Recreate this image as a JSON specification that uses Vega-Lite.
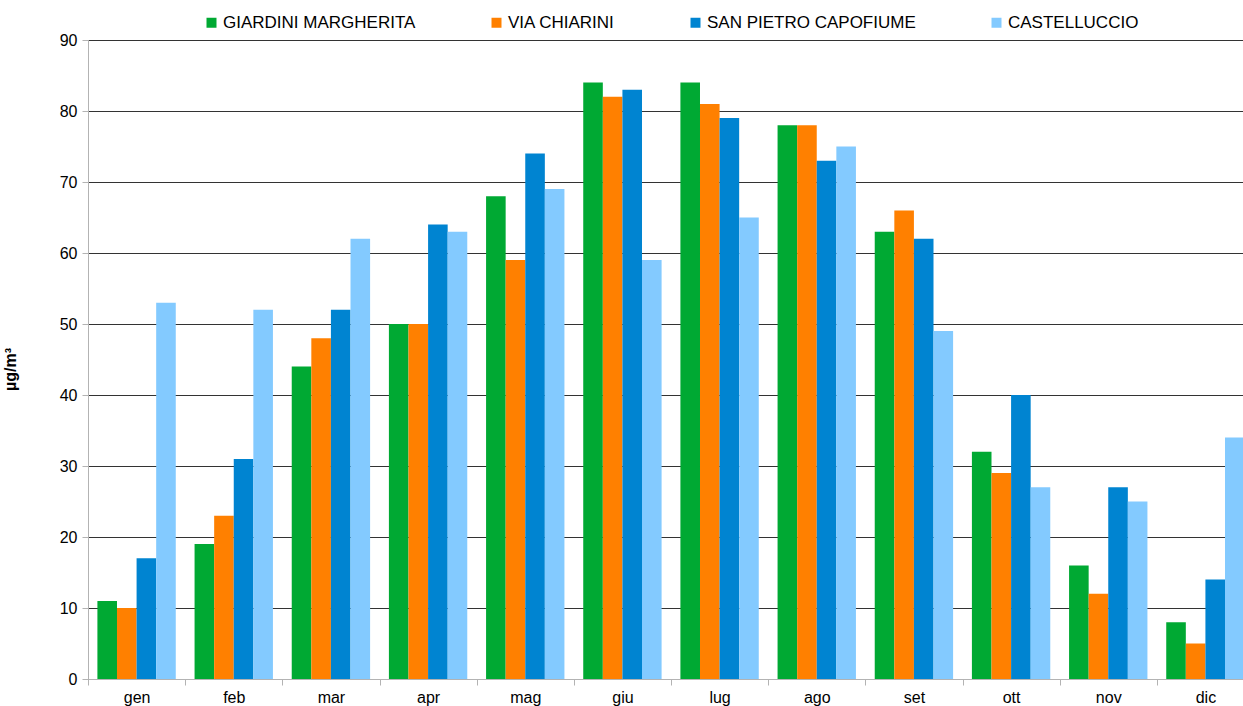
{
  "$schema": "https://vega.github.io/schema/vega-lite/v6.json",
  "autosize": "none",
  "width": 1166,
  "height": 639,
  "padding": {"left": 88, "top": 40, "right": -11, "bottom": 27},
  "background": "white",
  "config": {
    "view": {"stroke": null},
    "font": "Liberation Sans"
  },
  "data": {
    "values": [
      {"mese": "gen", "stazione": "GIARDINI MARGHERITA", "valore": 11},
      {"mese": "gen", "stazione": "VIA CHIARINI", "valore": 10},
      {"mese": "gen", "stazione": "SAN PIETRO CAPOFIUME", "valore": 17},
      {"mese": "gen", "stazione": "CASTELLUCCIO", "valore": 53},
      {"mese": "feb", "stazione": "GIARDINI MARGHERITA", "valore": 19},
      {"mese": "feb", "stazione": "VIA CHIARINI", "valore": 23},
      {"mese": "feb", "stazione": "SAN PIETRO CAPOFIUME", "valore": 31},
      {"mese": "feb", "stazione": "CASTELLUCCIO", "valore": 52},
      {"mese": "mar", "stazione": "GIARDINI MARGHERITA", "valore": 44},
      {"mese": "mar", "stazione": "VIA CHIARINI", "valore": 48},
      {"mese": "mar", "stazione": "SAN PIETRO CAPOFIUME", "valore": 52},
      {"mese": "mar", "stazione": "CASTELLUCCIO", "valore": 62},
      {"mese": "apr", "stazione": "GIARDINI MARGHERITA", "valore": 50},
      {"mese": "apr", "stazione": "VIA CHIARINI", "valore": 50},
      {"mese": "apr", "stazione": "SAN PIETRO CAPOFIUME", "valore": 64},
      {"mese": "apr", "stazione": "CASTELLUCCIO", "valore": 63},
      {"mese": "mag", "stazione": "GIARDINI MARGHERITA", "valore": 68},
      {"mese": "mag", "stazione": "VIA CHIARINI", "valore": 59},
      {"mese": "mag", "stazione": "SAN PIETRO CAPOFIUME", "valore": 74},
      {"mese": "mag", "stazione": "CASTELLUCCIO", "valore": 69},
      {"mese": "giu", "stazione": "GIARDINI MARGHERITA", "valore": 84},
      {"mese": "giu", "stazione": "VIA CHIARINI", "valore": 82},
      {"mese": "giu", "stazione": "SAN PIETRO CAPOFIUME", "valore": 83},
      {"mese": "giu", "stazione": "CASTELLUCCIO", "valore": 59},
      {"mese": "lug", "stazione": "GIARDINI MARGHERITA", "valore": 84},
      {"mese": "lug", "stazione": "VIA CHIARINI", "valore": 81},
      {"mese": "lug", "stazione": "SAN PIETRO CAPOFIUME", "valore": 79},
      {"mese": "lug", "stazione": "CASTELLUCCIO", "valore": 65},
      {"mese": "ago", "stazione": "GIARDINI MARGHERITA", "valore": 78},
      {"mese": "ago", "stazione": "VIA CHIARINI", "valore": 78},
      {"mese": "ago", "stazione": "SAN PIETRO CAPOFIUME", "valore": 73},
      {"mese": "ago", "stazione": "CASTELLUCCIO", "valore": 75},
      {"mese": "set", "stazione": "GIARDINI MARGHERITA", "valore": 63},
      {"mese": "set", "stazione": "VIA CHIARINI", "valore": 66},
      {"mese": "set", "stazione": "SAN PIETRO CAPOFIUME", "valore": 62},
      {"mese": "set", "stazione": "CASTELLUCCIO", "valore": 49},
      {"mese": "ott", "stazione": "GIARDINI MARGHERITA", "valore": 32},
      {"mese": "ott", "stazione": "VIA CHIARINI", "valore": 29},
      {"mese": "ott", "stazione": "SAN PIETRO CAPOFIUME", "valore": 40},
      {"mese": "ott", "stazione": "CASTELLUCCIO", "valore": 27},
      {"mese": "nov", "stazione": "GIARDINI MARGHERITA", "valore": 16},
      {"mese": "nov", "stazione": "VIA CHIARINI", "valore": 12},
      {"mese": "nov", "stazione": "SAN PIETRO CAPOFIUME", "valore": 27},
      {"mese": "nov", "stazione": "CASTELLUCCIO", "valore": 25},
      {"mese": "dic", "stazione": "GIARDINI MARGHERITA", "valore": 8},
      {"mese": "dic", "stazione": "VIA CHIARINI", "valore": 5},
      {"mese": "dic", "stazione": "SAN PIETRO CAPOFIUME", "valore": 14},
      {"mese": "dic", "stazione": "CASTELLUCCIO", "valore": 34}
    ]
  },
  "mark": {"type": "bar"},
  "encoding": {
    "x": {
      "field": "mese",
      "type": "nominal",
      "sort": ["gen", "feb", "mar", "apr", "mag", "giu", "lug", "ago", "set", "ott", "nov", "dic"],
      "scale": {"paddingInner": 0, "paddingOuter": 0},
      "axis": {
        "title": null,
        "labelAngle": 0,
        "grid": false,
        "tickBand": "extent",
        "domainColor": "#b3b3b3",
        "tickColor": "#b3b3b3",
        "tickSize": 6,
        "labelFontSize": 16,
        "labelColor": "#000000",
        "labelPadding": 4,
        "labelFont": "Liberation Sans"
      }
    },
    "xOffset": {
      "field": "stazione",
      "type": "nominal",
      "sort": ["GIARDINI MARGHERITA", "VIA CHIARINI", "SAN PIETRO CAPOFIUME", "CASTELLUCCIO"],
      "scale": {"paddingInner": 0, "paddingOuter": 0.48}
    },
    "y": {
      "field": "valore",
      "type": "quantitative",
      "scale": {"domain": [0, 90], "nice": false},
      "axis": {
        "title": "µg/m³",
        "titleFont": "Liberation Sans",
        "titleFontSize": 16,
        "titleFontWeight": "bold",
        "titleColor": "#000000",
        "titleX": -70,
        "titleY": 329,
        "titleAngle": -90,
        "values": [0, 10, 20, 30, 40, 50, 60, 70, 80, 90],
        "grid": true,
        "gridColor": "#333333",
        "gridWidth": 1,
        "domainColor": "#b3b3b3",
        "tickColor": "#b3b3b3",
        "tickSize": 6,
        "labelFontSize": 16,
        "labelColor": "#000000",
        "labelPadding": 5,
        "labelFont": "Liberation Sans"
      }
    },
    "color": {
      "field": "stazione",
      "type": "nominal",
      "scale": {
        "domain": ["GIARDINI MARGHERITA", "VIA CHIARINI", "SAN PIETRO CAPOFIUME", "CASTELLUCCIO"],
        "range": ["#00a933", "#ff8000", "#0084d1", "#83caff"]
      },
      "legend": {
        "title": null,
        "orient": "none",
        "direction": "horizontal",
        "legendX": 115,
        "legendY": -26,
        "symbolType": "square",
        "symbolSize": 100,
        "symbolStrokeWidth": 0,
        "labelFontSize": 17,
        "labelLimit": 0,
        "labelFont": "Liberation Sans",
        "labelColor": "#000000",
        "labelOffset": 3,
        "columnPadding": 72
      }
    }
  }
}
